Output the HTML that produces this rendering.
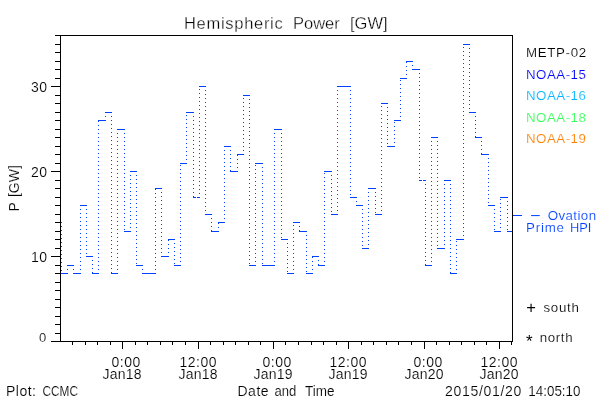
<!DOCTYPE html>
<html><head><meta charset="utf-8"><title>Hemispheric Power [GW]</title>
<style>html,body{margin:0;padding:0;background:#fff}svg{display:block}text{font-family:"Liberation Sans",sans-serif;}</style>
</head><body>
<svg width="600" height="400" viewBox="0 0 600 400">
<rect width="600" height="400" fill="#fff"/>
<g stroke="#000" stroke-width="1" shape-rendering="crispEdges" fill="none">
<path d="M60.5 35V342M51 341.5H513M512.5 35V342M55 35.5H513"/>
<path d="M51 341.5H60M55 333.5H60M55 324.5H60M55 316.5H60M55 307.5H60M55 299.5H60M55 290.5H60M55 282.5H60M55 273.5H60M55 265.5H60M51 256.5H60M55 248.5H60M55 239.5H60M55 231.5H60M55 222.5H60M55 214.5H60M55 205.5H60M55 197.5H60M55 188.5H60M55 180.5H60M51 171.5H60M55 163.5H60M55 154.5H60M55 146.5H60M55 137.5H60M55 129.5H60M55 120.5H60M55 112.5H60M55 103.5H60M55 95.5H60M51 86.5H60M55 78.5H60M55 69.5H60M55 61.5H60M55 52.5H60M55 44.5H60"/>
<path d="M72.5 342V345M85.5 342V345M97.5 342V345M110.5 342V345M122.5 342V349M135.5 342V345M147.5 342V345M160.5 342V345M172.5 342V345M185.5 342V345M198.5 342V349M210.5 342V345M223.5 342V345M235.5 342V345M248.5 342V345M260.5 342V345M273.5 342V349M285.5 342V345M298.5 342V345M311.5 342V345M323.5 342V345M336.5 342V345M348.5 342V349M361.5 342V345M373.5 342V345M386.5 342V345M398.5 342V345M411.5 342V345M424.5 342V349M436.5 342V345M449.5 342V345M461.5 342V345M474.5 342V345M486.5 342V345M499.5 342V349M511.5 342V345"/>
</g>
<g stroke="#0040ff" stroke-width="1" shape-rendering="crispEdges" fill="none">
<path d="M61 273.5H67M67 265.5H73M73 273.5H80M80 205.5H86M86 256.5H92M92 273.5H98M98 120.5H105M105 112.5H111M111 273.5H117M117 129.5H124M124 231.5H130M130 171.5H136M136 265.5H142M142 273.5H149M149 273.5H155M155 188.5H161M161 256.5H168M168 239.5H174M174 265.5H180M180 163.5H186M186 112.5H193M193 197.5H196M197 197.5H200M199 86.5H205M205 214.5H211M211 231.5H218M218 222.5H224M224 146.5H230M230 171.5H237M237 154.5H243M243 95.5H249M249 265.5H255M255 163.5H262M262 265.5H268M268 265.5H274M274 129.5H281M281 239.5H287M287 273.5H293M293 222.5H299M299 231.5H306M306 273.5H312M312 256.5H318M318 265.5H324M324 171.5H331M331 214.5H337M337 86.5H343M343 86.5H350M350 197.5H356M356 205.5H362M362 248.5H368M368 188.5H375M375 214.5H381M381 103.5H387M387 146.5H394M394 120.5H400M400 78.5H406M406 61.5H412M412 69.5H419M419 180.5H422M423 180.5H426M425 265.5H431M431 137.5H437M437 248.5H444M444 180.5H450M450 273.5H456M456 239.5H463M463 44.5H469M469 112.5H475M475 137.5H481M481 154.5H488M488 205.5H494M494 231.5H500M500 197.5H507M507 231.5H512"/>
<line x1="61.5" y1="222" x2="61.5" y2="273" stroke-dasharray="1 3"/>
<line x1="67.5" y1="274" x2="67.5" y2="266" stroke-dasharray="1 3"/>
<line x1="73.5" y1="265" x2="73.5" y2="273" stroke-dasharray="1 3"/>
<line x1="80.5" y1="274" x2="80.5" y2="206" stroke-dasharray="1 3"/>
<line x1="86.5" y1="205" x2="86.5" y2="256" stroke-dasharray="1 3"/>
<line x1="92.5" y1="256" x2="92.5" y2="273" stroke-dasharray="1 3"/>
<line x1="98.5" y1="274" x2="98.5" y2="121" stroke-dasharray="1 3"/>
<line x1="105.5" y1="121" x2="105.5" y2="113" stroke-dasharray="1 3"/>
<line x1="111.5" y1="112" x2="111.5" y2="273" stroke-dasharray="1 3"/>
<line x1="117.5" y1="274" x2="117.5" y2="130" stroke-dasharray="1 3"/>
<line x1="124.5" y1="129" x2="124.5" y2="231" stroke-dasharray="1 3"/>
<line x1="130.5" y1="232" x2="130.5" y2="172" stroke-dasharray="1 3"/>
<line x1="136.5" y1="171" x2="136.5" y2="265" stroke-dasharray="1 3"/>
<line x1="142.5" y1="265" x2="142.5" y2="273" stroke-dasharray="1 3"/>
<line x1="155.5" y1="274" x2="155.5" y2="189" stroke-dasharray="1 3"/>
<line x1="161.5" y1="188" x2="161.5" y2="256" stroke-dasharray="1 3"/>
<line x1="168.5" y1="257" x2="168.5" y2="240" stroke-dasharray="1 3"/>
<line x1="174.5" y1="239" x2="174.5" y2="265" stroke-dasharray="1 3"/>
<line x1="180.5" y1="266" x2="180.5" y2="164" stroke-dasharray="1 3"/>
<line x1="186.5" y1="164" x2="186.5" y2="113" stroke-dasharray="1 3"/>
<line x1="193.5" y1="112" x2="193.5" y2="197" stroke-dasharray="1 3"/>
<line x1="199.5" y1="198" x2="199.5" y2="87" stroke-dasharray="1 3"/>
<line x1="205.5" y1="86" x2="205.5" y2="214" stroke-dasharray="1 3"/>
<line x1="211.5" y1="214" x2="211.5" y2="231" stroke-dasharray="1 3"/>
<line x1="218.5" y1="232" x2="218.5" y2="223" stroke-dasharray="1 3"/>
<line x1="224.5" y1="223" x2="224.5" y2="147" stroke-dasharray="1 3"/>
<line x1="230.5" y1="146" x2="230.5" y2="171" stroke-dasharray="1 3"/>
<line x1="237.5" y1="172" x2="237.5" y2="155" stroke-dasharray="1 3"/>
<line x1="243.5" y1="155" x2="243.5" y2="96" stroke-dasharray="1 3"/>
<line x1="249.5" y1="95" x2="249.5" y2="265" stroke-dasharray="1 3"/>
<line x1="255.5" y1="266" x2="255.5" y2="164" stroke-dasharray="1 3"/>
<line x1="262.5" y1="163" x2="262.5" y2="265" stroke-dasharray="1 3"/>
<line x1="274.5" y1="266" x2="274.5" y2="130" stroke-dasharray="1 3"/>
<line x1="281.5" y1="129" x2="281.5" y2="239" stroke-dasharray="1 3"/>
<line x1="287.5" y1="239" x2="287.5" y2="273" stroke-dasharray="1 3"/>
<line x1="293.5" y1="274" x2="293.5" y2="223" stroke-dasharray="1 3"/>
<line x1="299.5" y1="222" x2="299.5" y2="231" stroke-dasharray="1 3"/>
<line x1="306.5" y1="231" x2="306.5" y2="273" stroke-dasharray="1 3"/>
<line x1="312.5" y1="274" x2="312.5" y2="257" stroke-dasharray="1 3"/>
<line x1="318.5" y1="256" x2="318.5" y2="265" stroke-dasharray="1 3"/>
<line x1="324.5" y1="266" x2="324.5" y2="172" stroke-dasharray="1 3"/>
<line x1="331.5" y1="171" x2="331.5" y2="214" stroke-dasharray="1 3"/>
<line x1="337.5" y1="215" x2="337.5" y2="87" stroke-dasharray="1 3"/>
<line x1="350.5" y1="86" x2="350.5" y2="197" stroke-dasharray="1 3"/>
<line x1="356.5" y1="197" x2="356.5" y2="205" stroke-dasharray="1 3"/>
<line x1="362.5" y1="205" x2="362.5" y2="248" stroke-dasharray="1 3"/>
<line x1="368.5" y1="249" x2="368.5" y2="189" stroke-dasharray="1 3"/>
<line x1="375.5" y1="188" x2="375.5" y2="214" stroke-dasharray="1 3"/>
<line x1="381.5" y1="215" x2="381.5" y2="104" stroke-dasharray="1 3"/>
<line x1="387.5" y1="103" x2="387.5" y2="146" stroke-dasharray="1 3"/>
<line x1="394.5" y1="147" x2="394.5" y2="121" stroke-dasharray="1 3"/>
<line x1="400.5" y1="121" x2="400.5" y2="79" stroke-dasharray="1 3"/>
<line x1="406.5" y1="79" x2="406.5" y2="62" stroke-dasharray="1 3"/>
<line x1="412.5" y1="61" x2="412.5" y2="69" stroke-dasharray="1 3"/>
<line x1="419.5" y1="69" x2="419.5" y2="180" stroke-dasharray="1 3"/>
<line x1="425.5" y1="180" x2="425.5" y2="265" stroke-dasharray="1 3"/>
<line x1="431.5" y1="266" x2="431.5" y2="138" stroke-dasharray="1 3"/>
<line x1="437.5" y1="137" x2="437.5" y2="248" stroke-dasharray="1 3"/>
<line x1="444.5" y1="249" x2="444.5" y2="181" stroke-dasharray="1 3"/>
<line x1="450.5" y1="180" x2="450.5" y2="273" stroke-dasharray="1 3"/>
<line x1="456.5" y1="274" x2="456.5" y2="240" stroke-dasharray="1 3"/>
<line x1="463.5" y1="240" x2="463.5" y2="45" stroke-dasharray="1 3"/>
<line x1="469.5" y1="44" x2="469.5" y2="112" stroke-dasharray="1 3"/>
<line x1="475.5" y1="112" x2="475.5" y2="137" stroke-dasharray="1 3"/>
<line x1="481.5" y1="137" x2="481.5" y2="154" stroke-dasharray="1 3"/>
<line x1="488.5" y1="154" x2="488.5" y2="205" stroke-dasharray="1 3"/>
<line x1="494.5" y1="205" x2="494.5" y2="231" stroke-dasharray="1 3"/>
<line x1="500.5" y1="232" x2="500.5" y2="198" stroke-dasharray="1 3"/>
<line x1="507.5" y1="197" x2="507.5" y2="231" stroke-dasharray="1 3"/>
<path d="M513 215.5H522"/>
</g>
<g style="will-change:transform">
<text y="29" font-size="16.5" fill="#000" stroke="#fff" stroke-width="0.3"><tspan x="184.0" letter-spacing="0.7">Hemispheric</tspan> <tspan x="293.0" letter-spacing="0.0">Power</tspan> <tspan x="350.0" letter-spacing="0.0">[GW]</tspan></text>
<text y="92" font-size="14" fill="#000" stroke="#fff" stroke-width="0.15"><tspan x="31.0" letter-spacing="0.5">30</tspan></text>
<text y="177" font-size="14" fill="#000" stroke="#fff" stroke-width="0.15"><tspan x="31.0" letter-spacing="0.5">20</tspan></text>
<text y="262" font-size="14" fill="#000" stroke="#fff" stroke-width="0.15"><tspan x="31.0" letter-spacing="0.5">10</tspan></text>
<text y="342" font-size="13" fill="#000" stroke="#fff" stroke-width="0.15"><tspan x="39.0" letter-spacing="0.0">0</tspan></text>
<text y="367" font-size="14" fill="#000" stroke="#fff" stroke-width="0.15"><tspan x="111.5" letter-spacing="0.5">0:00</tspan></text>
<text y="379" font-size="14" fill="#000" stroke="#fff" stroke-width="0.15"><tspan x="102.5" letter-spacing="0.25">Jan18</tspan></text>
<text y="367" font-size="14" fill="#000" stroke="#fff" stroke-width="0.15"><tspan x="179.5" letter-spacing="0.5">12:00</tspan></text>
<text y="379" font-size="14" fill="#000" stroke="#fff" stroke-width="0.15"><tspan x="178.5" letter-spacing="0.25">Jan18</tspan></text>
<text y="367" font-size="14" fill="#000" stroke="#fff" stroke-width="0.15"><tspan x="262.5" letter-spacing="0.5">0:00</tspan></text>
<text y="379" font-size="14" fill="#000" stroke="#fff" stroke-width="0.15"><tspan x="253.5" letter-spacing="0.25">Jan19</tspan></text>
<text y="367" font-size="14" fill="#000" stroke="#fff" stroke-width="0.15"><tspan x="329.5" letter-spacing="0.5">12:00</tspan></text>
<text y="379" font-size="14" fill="#000" stroke="#fff" stroke-width="0.15"><tspan x="328.5" letter-spacing="0.25">Jan19</tspan></text>
<text y="367" font-size="14" fill="#000" stroke="#fff" stroke-width="0.15"><tspan x="413.5" letter-spacing="0.5">0:00</tspan></text>
<text y="379" font-size="14" fill="#000" stroke="#fff" stroke-width="0.15"><tspan x="404.5" letter-spacing="0.25">Jan20</tspan></text>
<text y="367" font-size="14" fill="#000" stroke="#fff" stroke-width="0.15"><tspan x="480.5" letter-spacing="0.5">12:00</tspan></text>
<text y="379" font-size="14" fill="#000" stroke="#fff" stroke-width="0.15"><tspan x="479.5" letter-spacing="0.25">Jan20</tspan></text>
<text y="396" font-size="14" fill="#000" stroke="#fff" stroke-width="0.15"><tspan x="6.0" letter-spacing="0.5">Plot:</tspan> <tspan x="42.5" textLength="35.5" lengthAdjust="spacingAndGlyphs">CCMC</tspan></text>
<text y="396" font-size="14" fill="#000" stroke="#fff" stroke-width="0.15"><tspan x="237.5" letter-spacing="0.5">Date</tspan> <tspan x="274.5" textLength="21.84" lengthAdjust="spacingAndGlyphs">and</tspan> <tspan x="305.0" textLength="29.57" lengthAdjust="spacingAndGlyphs">Time</tspan></text>
<text y="396" font-size="14" fill="#000" stroke="#fff" stroke-width="0.15"><tspan x="445.0" letter-spacing="0.7">2015/01/20</tspan> <tspan x="528.34" textLength="52.13" lengthAdjust="spacingAndGlyphs">14:05:10</tspan></text>
<text y="57" font-size="13.3" fill="#000" stroke="#fff" stroke-width="0.15"><tspan x="526.0" letter-spacing="0.67">METP-02</tspan></text>
<text y="78.5" font-size="13.3" fill="#0000ff" stroke="#fff" stroke-width="0.15"><tspan x="526.0" letter-spacing="0.5">NOAA-15</tspan></text>
<text y="100" font-size="13.3" fill="#00b4ff" stroke="#fff" stroke-width="0.15"><tspan x="526.0" letter-spacing="0.5">NOAA-16</tspan></text>
<text y="121.5" font-size="13.3" fill="#33ff55" stroke="#fff" stroke-width="0.15"><tspan x="526.0" letter-spacing="0.5">NOAA-18</tspan></text>
<text y="143" font-size="13.3" fill="#ff8000" stroke="#fff" stroke-width="0.15"><tspan x="526.0" letter-spacing="0.5">NOAA-19</tspan></text>
<text y="232" font-size="13.3" fill="#0040ff" stroke="#fff" stroke-width="0.15"><tspan x="526.0" letter-spacing="0.82">Prime</tspan> <tspan x="570.04" textLength="21.4" lengthAdjust="spacingAndGlyphs">HPI</tspan></text>
<text y="312" font-size="13.3" fill="#000" stroke="#fff" stroke-width="0.15"><tspan x="526.2" dy="1" font-size="16.5" stroke="none">+</tspan> <tspan x="543.5" letter-spacing="0.7" dy="-1">south</tspan></text>
<text y="342" font-size="13.3" fill="#000" stroke="#fff" stroke-width="0.15"><tspan x="526.0" dy="5.3" font-size="17" stroke="none">*</tspan> <tspan x="539.7" letter-spacing="0.65" dy="-5.3">north</tspan></text>
<text y="220" font-size="13.3" fill="#0040ff" stroke="#fff" stroke-width="0.15"><tspan x="529.6" dy="-1" textLength="11.8" lengthAdjust="spacingAndGlyphs" stroke="none">-</tspan> <tspan x="547.7" letter-spacing="0.42" dy="1">Ovation</tspan></text>
<text transform="translate(18.6,211.5) rotate(-90)" font-size="14" word-spacing="1.5" fill="#000" stroke="#fff" stroke-width="0.15">P [GW]</text>
</g>
</svg></body></html>
